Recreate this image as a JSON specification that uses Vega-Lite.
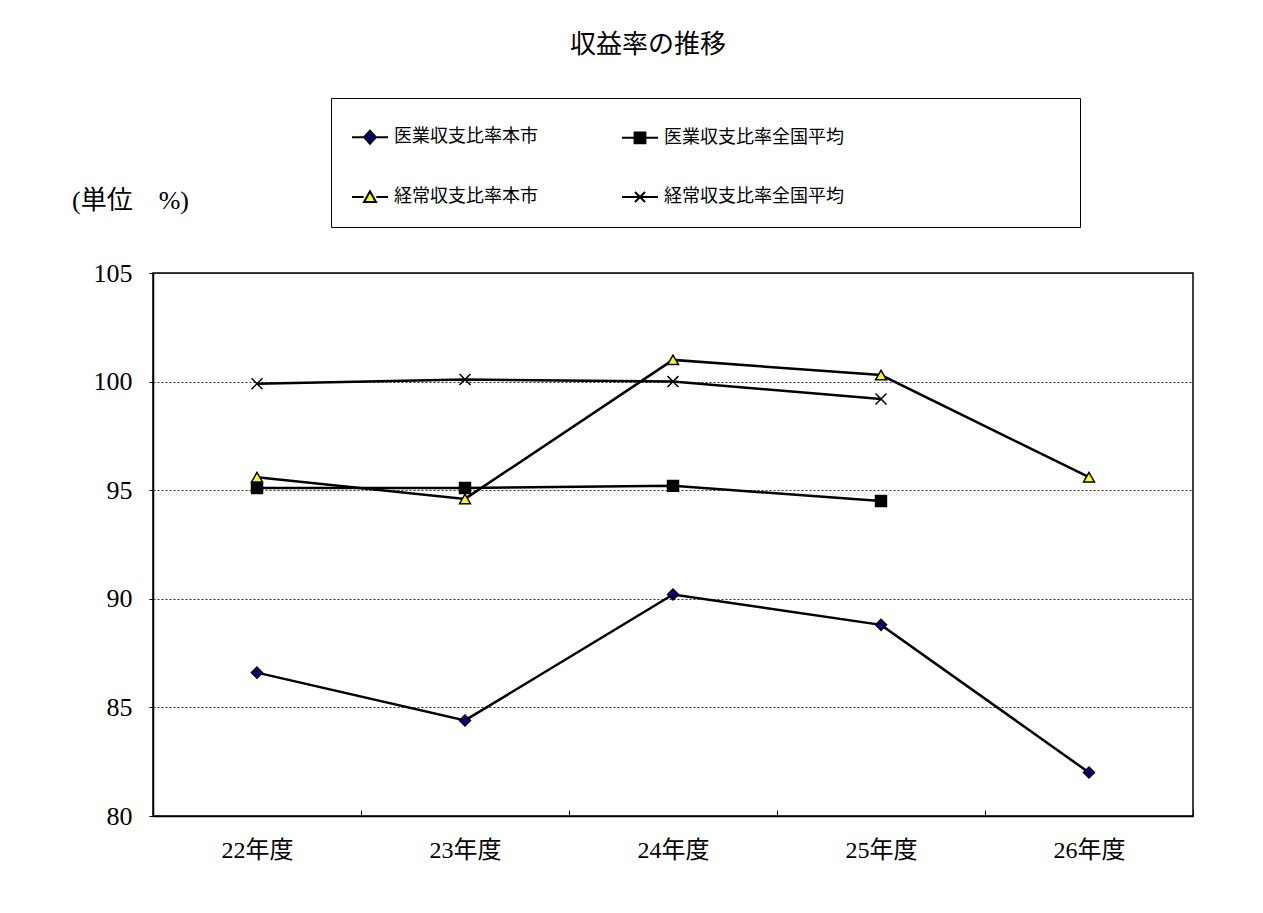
{
  "$schema": "https://vega.github.io/schema/vega-lite/v6.json",
  "width": 1040,
  "height": 543,
  "autosize": {"type": "none"},
  "padding": {"left": 153, "top": 273, "right": 70, "bottom": 97},
  "background": "white",
  "title": {
    "text": "収益率の推移",
    "fontSize": 26,
    "fontWeight": "normal",
    "font": "'Liberation Serif', 'Noto Sans CJK JP'",
    "color": "black",
    "anchor": "middle",
    "frame": "group",
    "dx": -25,
    "offset": 40
  },
  "data": {
    "values": [
      {"year": "22年度", "series": "医業収支比率本市", "value": 86.6},
      {"year": "23年度", "series": "医業収支比率本市", "value": 84.4},
      {"year": "24年度", "series": "医業収支比率本市", "value": 90.2},
      {"year": "25年度", "series": "医業収支比率本市", "value": 88.8},
      {"year": "26年度", "series": "医業収支比率本市", "value": 82.0},
      {"year": "22年度", "series": "医業収支比率全国平均", "value": 95.1},
      {"year": "23年度", "series": "医業収支比率全国平均", "value": 95.1},
      {"year": "24年度", "series": "医業収支比率全国平均", "value": 95.2},
      {"year": "25年度", "series": "医業収支比率全国平均", "value": 94.5},
      {"year": "22年度", "series": "経常収支比率本市", "value": 95.6},
      {"year": "23年度", "series": "経常収支比率本市", "value": 94.6},
      {"year": "24年度", "series": "経常収支比率本市", "value": 101.0},
      {"year": "25年度", "series": "経常収支比率本市", "value": 100.3},
      {"year": "26年度", "series": "経常収支比率本市", "value": 95.6},
      {"year": "22年度", "series": "経常収支比率全国平均", "value": 99.9},
      {"year": "23年度", "series": "経常収支比率全国平均", "value": 100.1},
      {"year": "24年度", "series": "経常収支比率全国平均", "value": 100.0},
      {"year": "25年度", "series": "経常収支比率全国平均", "value": 99.2}
    ]
  },
  "encoding": {
    "x": {
      "field": "year",
      "type": "ordinal",
      "sort": ["22年度", "23年度", "24年度", "25年度", "26年度"],
      "bandPosition": 0.5,
      "scale": {"type": "band", "paddingInner": 0, "paddingOuter": 0},
      "axis": {
        "title": null,
        "labelAngle": 0,
        "labelFontSize": 24,
        "labelColor": "black",
        "labelFont": "'Liberation Serif', 'Noto Sans CJK JP'",
        "domainColor": "black",
        "domainWidth": 1.5,
        "tickBand": "extent",
        "tickColor": "black",
        "tickWidth": 1,
        "tickSize": -6,
        "labelPadding": 28,
        "grid": false
      }
    },
    "y": {
      "field": "value",
      "type": "quantitative",
      "scale": {"domain": [80, 105], "zero": false, "nice": false},
      "axis": {
        "values": [80, 85, 90, 95, 100, 105],
        "title": "(単位　%)",
        "titleAngle": 0,
        "titleX": -23,
        "titleY": -73,
        "titleAlign": "center",
        "titleBaseline": "middle",
        "titleFontSize": 26,
        "titleFontWeight": "normal",
        "titleColor": "black",
        "titleFont": "'Liberation Serif', 'Noto Sans CJK JP'",
        "labelFontSize": 26,
        "labelColor": "black",
        "labelFont": "'Liberation Serif', 'Noto Sans CJK JP'",
        "labelPadding": 17,
        "tickSize": 4,
        "tickColor": "black",
        "domainColor": "black",
        "domainWidth": 1.5,
        "grid": true,
        "gridColor": "black",
        "gridDash": [2, 2],
        "gridWidth": 1,
        "gridOpacity": 0.8
      }
    }
  },
  "layer": [
    {
      "mark": {"type": "line", "color": "black", "strokeWidth": 2.5},
      "encoding": {"detail": {"field": "series", "type": "nominal"}}
    },
    {
      "mark": {"type": "point", "filled": true, "stroke": "black", "strokeWidth": 1.5, "size": 120, "opacity": 1},
      "encoding": {
        "shape": {
          "field": "series",
          "type": "nominal",
          "scale": {
            "domain": ["医業収支比率本市", "医業収支比率全国平均", "経常収支比率本市", "経常収支比率全国平均"],
            "range": ["diamond", "square", "triangle-up", "M-1,-1L1,1M-1,1L1,-1"]
          },
          "legend": null
        },
        "fill": {
          "field": "series",
          "type": "nominal",
          "scale": {
            "domain": ["医業収支比率本市", "医業収支比率全国平均", "経常収支比率本市", "経常収支比率全国平均"],
            "range": ["#000080", "#000000", "#ffff00", "transparent"]
          },
          "legend": null
        }
      }
    },
    {
      "mark": {"type": "point", "filled": true, "stroke": "black", "size": 10, "opacity": 0},
      "encoding": {
        "shape": {
          "field": "series",
          "type": "nominal",
          "scale": {
            "domain": ["医業収支比率本市", "医業収支比率全国平均", "経常収支比率本市", "経常収支比率全国平均"],
            "range": [
              "M-1,0H-0.35M0.35,0H1M-0.33,0L0,-0.36L0.33,0L0,0.36Z",
              "M-1,0H-0.3M0.3,0H1M-0.3,-0.3H0.3V0.3H-0.3Z",
              "M-1,0H-0.35M0.35,0H1M-0.33,0.28L0,-0.32L0.33,0.28Z",
              "M-1,0H1M-0.28,-0.28L0.28,0.28M-0.28,0.28L0.28,-0.28"
            ]
          },
          "legend": {
            "orient": "none",
            "legendX": 178,
            "legendY": -175,
            "columns": 2,
            "direction": "horizontal",
            "title": null,
            "padding": 20,
            "strokeColor": "black",
            "fillColor": "white",
            "symbolSize": 1296,
            "symbolStrokeWidth": 2,
            "symbolOpacity": 1,
            "labelFont": "'Liberation Serif', 'Noto Sans CJK JP'",
            "labelFontSize": 18,
            "labelColor": "black",
            "labelOffset": 5,
            "labelLimit": 1000,
            "rowPadding": 30,
            "columnPadding": 80,
            "gridAlign": "each",
            "labelExpr": "datum.index % 2 == 1 ? datum.label + '　　　　　　　　　　　　\u200b' : datum.label"
          }
        },
        "fill": {
          "field": "series",
          "type": "nominal",
          "scale": {
            "domain": ["医業収支比率本市", "医業収支比率全国平均", "経常収支比率本市", "経常収支比率全国平均"],
            "range": ["#000080", "#000000", "#ffff00", "transparent"]
          },
          "legend": {
            "orient": "none",
            "legendX": 178,
            "legendY": -175,
            "columns": 2,
            "direction": "horizontal",
            "title": null,
            "padding": 20,
            "strokeColor": "black",
            "fillColor": "white",
            "symbolSize": 1296,
            "symbolStrokeWidth": 2,
            "symbolOpacity": 1,
            "labelFont": "'Liberation Serif', 'Noto Sans CJK JP'",
            "labelFontSize": 18,
            "labelColor": "black",
            "labelOffset": 5,
            "labelLimit": 1000,
            "rowPadding": 30,
            "columnPadding": 80,
            "gridAlign": "each",
            "labelExpr": "datum.index % 2 == 1 ? datum.label + '　　　　　　　　　　　　\u200b' : datum.label"
          }
        }
      }
    }
  ],
  "resolve": {"scale": {"shape": "independent", "fill": "independent"}},
  "config": {
    "view": {"stroke": "black", "strokeWidth": 1.5},
    "font": "'Liberation Serif', 'Noto Sans CJK JP'"
  }
}
